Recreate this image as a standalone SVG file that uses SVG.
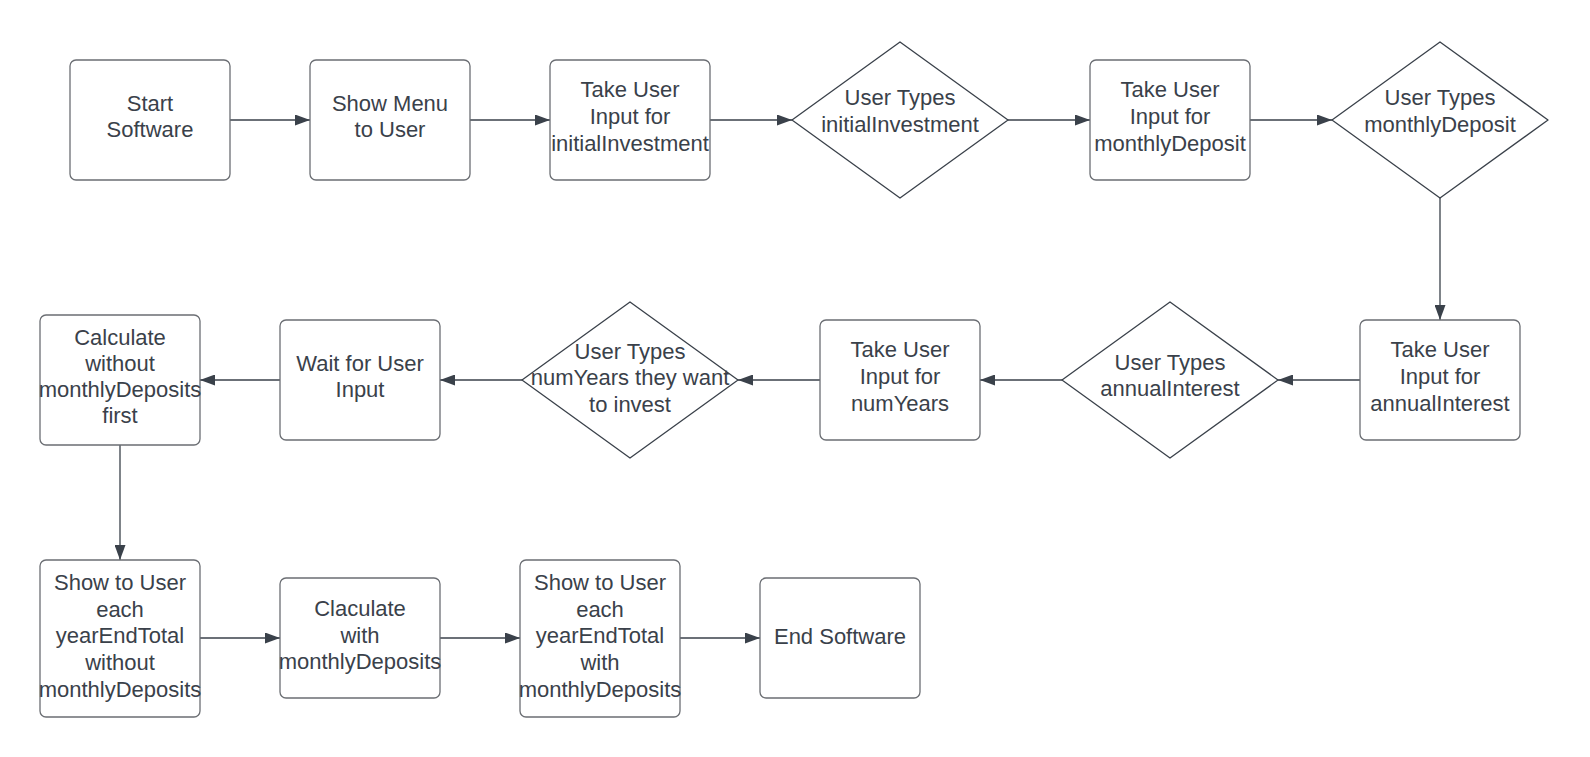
<svg xmlns="http://www.w3.org/2000/svg" width="1590" height="757" viewBox="0 0 1590 757">
<style>
.box{fill:#ffffff;stroke:#6b6e73;stroke-width:1.3}
.dia{fill:#ffffff;stroke:#3a414a;stroke-width:1.3;stroke-linejoin:round}
.lbl{font-family:"Liberation Sans",Arial,sans-serif;font-size:22px;fill:#3a414a;text-anchor:middle}
.con{fill:none;stroke:#3a414a;stroke-width:1.3}
</style>
<defs>
<marker id="arr" markerUnits="userSpaceOnUse" markerWidth="16" markerHeight="11" refX="15" refY="5.5" orient="auto">
<path d="M0,0 L15,5.5 L0,11 z" fill="#3a414a"/>
</marker>
</defs>
<rect width="1590" height="757" fill="#ffffff"/>
<g id="connectors">
<line class="con" x1="230" y1="120" x2="310" y2="120" marker-end="url(#arr)"/>
<line class="con" x1="470" y1="120" x2="550" y2="120" marker-end="url(#arr)"/>
<line class="con" x1="710" y1="120" x2="792" y2="120" marker-end="url(#arr)"/>
<line class="con" x1="1008" y1="120" x2="1090" y2="120" marker-end="url(#arr)"/>
<line class="con" x1="1250" y1="120" x2="1332" y2="120" marker-end="url(#arr)"/>
<line class="con" x1="1440" y1="198" x2="1440" y2="320" marker-end="url(#arr)"/>
<line class="con" x1="1360" y1="380" x2="1278" y2="380" marker-end="url(#arr)"/>
<line class="con" x1="1062" y1="380" x2="980" y2="380" marker-end="url(#arr)"/>
<line class="con" x1="820" y1="380" x2="738" y2="380" marker-end="url(#arr)"/>
<line class="con" x1="522" y1="380" x2="440" y2="380" marker-end="url(#arr)"/>
<line class="con" x1="280" y1="380" x2="200" y2="380" marker-end="url(#arr)"/>
<line class="con" x1="120" y1="445" x2="120" y2="560" marker-end="url(#arr)"/>
<line class="con" x1="200" y1="638" x2="280" y2="638" marker-end="url(#arr)"/>
<line class="con" x1="440" y1="638" x2="520" y2="638" marker-end="url(#arr)"/>
<line class="con" x1="680" y1="638" x2="760" y2="638" marker-end="url(#arr)"/>
</g>
<g id="start">
<rect class="box" x="70" y="60" width="160" height="120" rx="6"/>
<text class="lbl" x="150" y="110.7">Start</text>
<text class="lbl" x="150" y="137">Software</text>
</g>
<g id="showMenu">
<rect class="box" x="310" y="60" width="160" height="120" rx="6"/>
<text class="lbl" x="390" y="110.7">Show Menu</text>
<text class="lbl" x="390" y="137">to User</text>
</g>
<g id="inputInitial">
<rect class="box" x="550" y="60" width="160" height="120" rx="6"/>
<text class="lbl" x="630" y="97.3">Take User</text>
<text class="lbl" x="630" y="124">Input for</text>
<text class="lbl" x="630" y="150.7">initialInvestment</text>
</g>
<g id="typesInitial">
<polygon class="dia" points="900,42 1008,120 900,198 792,120"/>
<text class="lbl" x="900" y="105">User Types</text>
<text class="lbl" x="900" y="131.5">initialInvestment</text>
</g>
<g id="inputMonthly">
<rect class="box" x="1090" y="60" width="160" height="120" rx="6"/>
<text class="lbl" x="1170" y="97.3">Take User</text>
<text class="lbl" x="1170" y="124">Input for</text>
<text class="lbl" x="1170" y="150.7">monthlyDeposit</text>
</g>
<g id="typesMonthly">
<polygon class="dia" points="1440,42 1548,120 1440,198 1332,120"/>
<text class="lbl" x="1440" y="105">User Types</text>
<text class="lbl" x="1440" y="131.5">monthlyDeposit</text>
</g>
<g id="inputAnnual">
<rect class="box" x="1360" y="320" width="160" height="120" rx="6"/>
<text class="lbl" x="1440" y="357.3">Take User</text>
<text class="lbl" x="1440" y="384">Input for</text>
<text class="lbl" x="1440" y="410.7">annualInterest</text>
</g>
<g id="typesAnnual">
<polygon class="dia" points="1170,302 1278,380 1170,458 1062,380"/>
<text class="lbl" x="1170" y="370">User Types</text>
<text class="lbl" x="1170" y="396">annualInterest</text>
</g>
<g id="inputYears">
<rect class="box" x="820" y="320" width="160" height="120" rx="6"/>
<text class="lbl" x="900" y="357.3">Take User</text>
<text class="lbl" x="900" y="384">Input for</text>
<text class="lbl" x="900" y="410.7">numYears</text>
</g>
<g id="typesYears">
<polygon class="dia" points="630,302 738,380 630,458 522,380"/>
<text class="lbl" x="630" y="358.5">User Types</text>
<text class="lbl" x="630" y="385">numYears they want</text>
<text class="lbl" x="630" y="411.5">to invest</text>
</g>
<g id="waitInput">
<rect class="box" x="280" y="320" width="160" height="120" rx="6"/>
<text class="lbl" x="360" y="370.7">Wait for User</text>
<text class="lbl" x="360" y="397.3">Input</text>
</g>
<g id="calcWithout">
<rect class="box" x="40" y="315" width="160" height="130" rx="6"/>
<text class="lbl" x="120" y="345">Calculate</text>
<text class="lbl" x="120" y="370.7">without</text>
<text class="lbl" x="120" y="397.3">monthlyDeposits</text>
<text class="lbl" x="120" y="423.3">first</text>
</g>
<g id="showWithout">
<rect class="box" x="40" y="560" width="160" height="157" rx="6"/>
<text class="lbl" x="120" y="590">Show to User</text>
<text class="lbl" x="120" y="616.7">each</text>
<text class="lbl" x="120" y="643.3">yearEndTotal</text>
<text class="lbl" x="120" y="670">without</text>
<text class="lbl" x="120" y="696.7">monthlyDeposits</text>
</g>
<g id="calcWith">
<rect class="box" x="280" y="578" width="160" height="120" rx="6"/>
<text class="lbl" x="360" y="616">Claculate</text>
<text class="lbl" x="360" y="642.7">with</text>
<text class="lbl" x="360" y="669.3">monthlyDeposits</text>
</g>
<g id="showWith">
<rect class="box" x="520" y="560" width="160" height="157" rx="6"/>
<text class="lbl" x="600" y="590">Show to User</text>
<text class="lbl" x="600" y="616.7">each</text>
<text class="lbl" x="600" y="643.3">yearEndTotal</text>
<text class="lbl" x="600" y="670">with</text>
<text class="lbl" x="600" y="696.7">monthlyDeposits</text>
</g>
<g id="end">
<rect class="box" x="760" y="578" width="160" height="120" rx="6"/>
<text class="lbl" x="840" y="644">End Software</text>
</g>
</svg>
